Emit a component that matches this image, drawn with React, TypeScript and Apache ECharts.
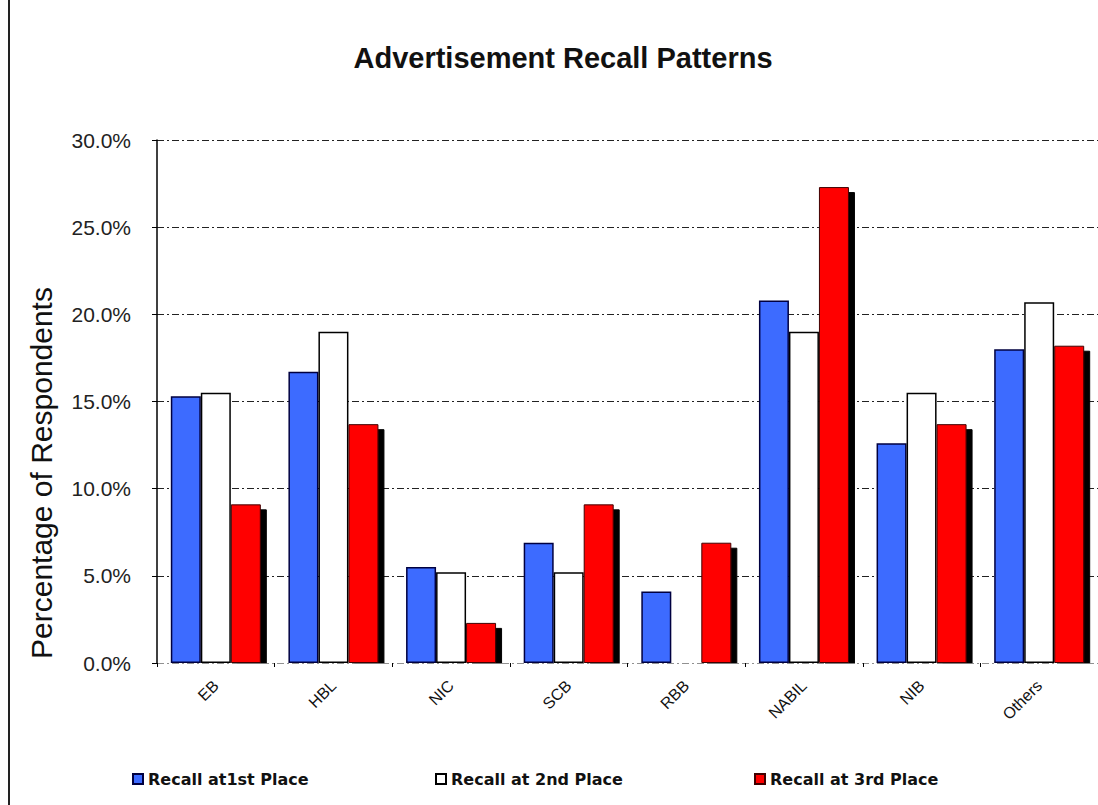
import React, { useEffect, useRef } from "react";
import * as echarts from "echarts";

const categories = ["EB", "HBL", "NIC", "SCB", "RBB", "NABIL", "NIB", "Others"];
const seriesNames = ["Recall at1st Place", "Recall at 2nd Place", "Recall at 3rd Place"];
const recall1st = [15.3, 16.7, 5.5, 6.9, 4.1, 20.8, 12.6, 18.0];
const recall2nd = [15.5, 19.0, 5.2, 5.2, 0, 19.0, 15.5, 20.7];
const recall3rd = [9.1, 13.7, 2.3, 9.1, 6.9, 27.3, 13.7, 18.2];
const yTicks = { min: 0, max: 30, interval: 5 };
const titleText = "Advertisement Recall Patterns";
const yAxisTitle = "Percentage of Respondents";

const toBarData = (arr: number[]) =>
  arr.map((v) => (v === 0 ? { value: v, itemStyle: { borderWidth: 0, opacity: 0 } } : v));

export default function App() {
  const ref = useRef<HTMLDivElement>(null);
  useEffect(() => {
    document.body.style.margin = "0";
    const chart = echarts.init(ref.current!, null, { renderer: "svg" });
    const noShadow = { shadowColor: "transparent", shadowOffsetX: 0, shadowOffsetY: 0, shadowBlur: 0 };
    const legendBase = {
      top: 766,
      icon: "rect",
      itemWidth: 10,
      itemHeight: 10,
      textStyle: { fontFamily: "DejaVu Sans", fontWeight: "bold", fontSize: 16, color: "#111" },
      itemStyle: noShadow,
    };
    chart.setOption({
      animation: false,
      backgroundColor: "#fff",
      grid: { left: 157, right: 0, top: 140, bottom: 142 },
      xAxis: {
        type: "category",
        data: categories,
        z: 10,
        axisLine: { show: false },
        axisTick: { show: true, length: 4, lineStyle: { color: "#000" } },
        axisLabel: {
          rotate: 45,
          margin: 20,
          fontFamily: "Liberation Sans, Arial",
          fontSize: 16,
          color: "#111",
        },
      },
      yAxis: {
        type: "value",
        min: yTicks.min,
        max: yTicks.max,
        interval: yTicks.interval,
        axisLine: { show: true, lineStyle: { color: "#000", width: 1.5 } },
        axisTick: { show: true, length: 5, lineStyle: { color: "#000" } },
        axisLabel: {
          margin: 26,
          fontFamily: "Liberation Sans, Arial",
          fontSize: 21,
          color: "#222",
          formatter: (v: number) => v.toFixed(1) + "%",
        },
        splitLine: { show: true, lineStyle: { color: "#222", width: 1, type: [7, 3, 2, 3] } },
      },
      legend: [
        { ...legendBase, left: 127, data: [seriesNames[0]] },
        { ...legendBase, left: 430, data: [seriesNames[1]] },
        { ...legendBase, left: 749, data: [seriesNames[2]] },
      ],
      series: [
        {
          name: seriesNames[0],
          type: "bar",
          data: toBarData(recall1st),
          barWidth: 30,
          barGap: "0%",
          itemStyle: { color: "#3d6bff", borderColor: "#000040", borderWidth: 1.5 },
        },
        {
          name: seriesNames[1],
          type: "bar",
          data: toBarData(recall2nd),
          barWidth: 30,
          barGap: "0%",
          itemStyle: { color: "#ffffff", borderColor: "#000", borderWidth: 1.5 },
        },
        {
          name: seriesNames[2],
          type: "bar",
          data: toBarData(recall3rd),
          barWidth: 30,
          barGap: "0%",
          itemStyle: {
            color: "#ff0000",
            borderColor: "#400000",
            borderWidth: 1,
            shadowColor: "#000",
            shadowOffsetX: 6,
            shadowOffsetY: 5,
            shadowBlur: 0,
          },
        },
      ],
      graphic: [
        {
          type: "line",
          shape: { x1: 9, y1: 0, x2: 9, y2: 805 },
          style: { stroke: "#222", lineWidth: 2 },
        },
        {
          type: "rect",
          z: 5,
          shape: { x: 158, y: 663.5, width: 940, height: 10 },
          style: { fill: "#fff" },
        },
        {
          type: "text",
          x: 563,
          y: 58,
          style: {
            text: titleText,
            fontFamily: "Liberation Sans, Arial",
            fontWeight: "bold",
            fontSize: 29,
            fill: "#111",
            align: "center",
            verticalAlign: "middle",
          },
        },
        {
          type: "text",
          x: 41,
          y: 473,
          rotation: Math.PI / 2,
          style: {
            text: yAxisTitle,
            fontFamily: "Liberation Sans, Arial",
            fontSize: 30,
            fill: "#111",
            align: "center",
            verticalAlign: "middle",
          },
        },
      ],
    });
    return () => chart.dispose();
  }, []);
  return <div ref={ref} style={{ width: 1098, height: 805 }} />;
}
